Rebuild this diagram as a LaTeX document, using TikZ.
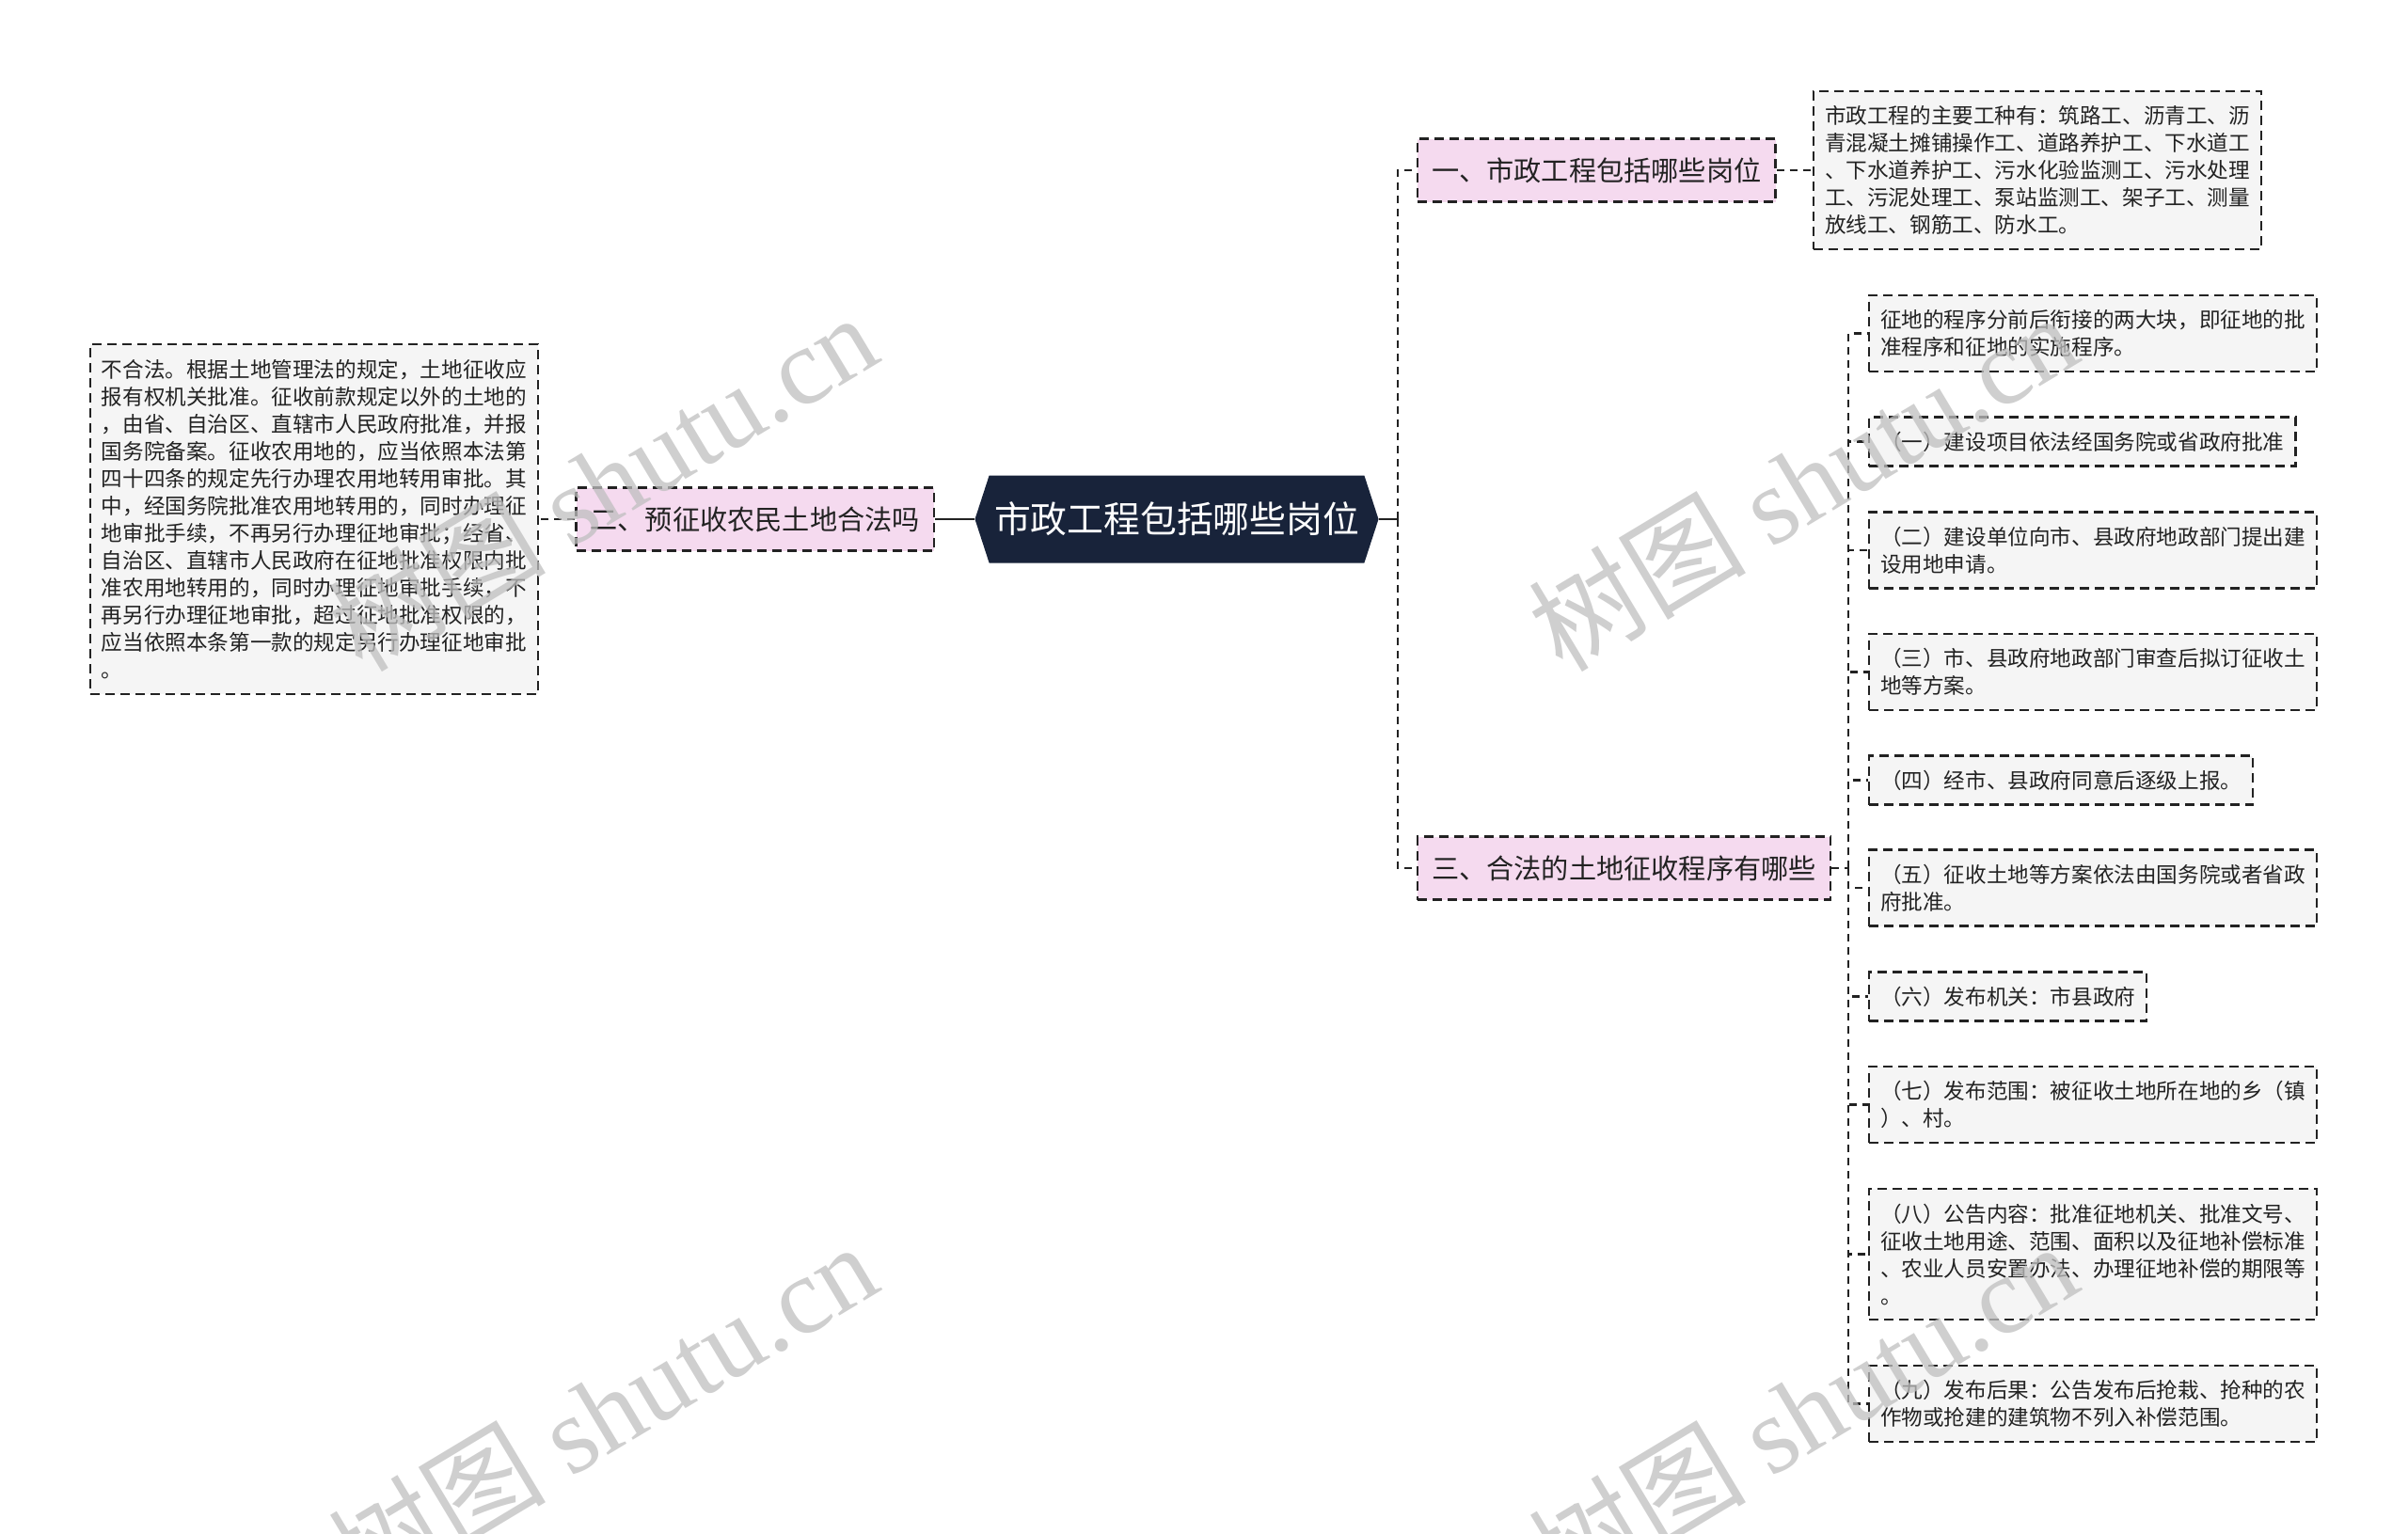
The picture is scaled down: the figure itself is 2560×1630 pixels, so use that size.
\documentclass[tikz,border=0pt]{standalone}
\usepackage{fontspec}
\setmainfont{Noto Sans CJK SC}
\newfontfamily\wmserif{Liberation Serif}
\usetikzlibrary{shapes.symbols}
\definecolor{rootblue}{HTML}{18233A}
\definecolor{topicpink}{HTML}{F5DAEF}
\definecolor{leafgray}{HTML}{F5F5F5}
\definecolor{inkgray}{HTML}{222222}

\begin{document}
\begin{tikzpicture}[x=0.5pt,y=-0.5pt,
  root/.style={signal,signal to=west and east,signal pointer angle=144,fill=rootblue,text=white,
    font=\fontsize{19.4pt}{23pt}\selectfont,minimum width=214.5pt,minimum height=46.5pt,inner sep=0pt},
  topic/.style={draw=inkgray,dash pattern=on 5pt off 3pt,line width=1.1pt,fill=topicpink,text=inkgray,
    font=\fontsize{14.6pt}{18pt}\selectfont,minimum height=33.5pt,inner xsep=7.5pt,inner ysep=0pt},
  leaf/.style={draw=inkgray,dash pattern=on 5pt off 3pt,line width=1.1pt,fill=leafgray,text=inkgray,
    font=\fontsize{11.3pt}{14.5pt}\selectfont,align=left,inner xsep=6pt,inner ysep=0pt},
  link/.style={draw=inkgray,line width=1.2pt,dash pattern=on 4pt off 3pt},
  tie/.style={draw=inkgray,line width=1.2pt},
  wmark/.style={text=black!25,opacity=0.75,rotate=31,font=\fontsize{58pt}{64pt}\selectfont}
]
\useasboundingbox[fill=white] (0,0) rectangle (2560,1630);

% centre and main topics
\node[root] (root) at (1251,552) {市政工程包括哪些岗位};
\node[topic,anchor=west] (jobs) at (1506,181) {一、市政工程包括哪些岗位};
\node[topic,anchor=east] (legal) at (994,552) {二、预征收农民土地合法吗};
\node[topic,anchor=west] (steps) at (1506,923) {三、合法的土地征收程序有哪些};

% details
\node[leaf,anchor=west,minimum height=84pt] (jobsinfo) at (1927,181) {市政工程的主要工种有：筑路工、沥青工、沥\\青混凝土摊铺操作工、道路养护工、下水道工\\、下水道养护工、污水化验监测工、污水处理\\工、污泥处理工、泵站监测工、架子工、测量\\放线工、钢筋工、防水工。};
\node[leaf,anchor=east,minimum height=186pt] (legalinfo) at (573,552) {不合法。根据土地管理法的规定，土地征收应\\报有权机关批准。征收前款规定以外的土地的\\，由省、自治区、直辖市人民政府批准，并报\\国务院备案。征收农用地的，应当依照本法第\\四十四条的规定先行办理农用地转用审批。其\\中，经国务院批准农用地转用的，同时办理征\\地审批手续，不再另行办理征地审批；经省、\\自治区、直辖市人民政府在征地批准权限内批\\准农用地转用的，同时办理征地审批手续，不\\再另行办理征地审批，超过征地批准权限的，\\应当依照本条第一款的规定另行办理征地审批\\。};

\node[leaf,anchor=west,minimum height=40.5pt] (s0) at (1986,354.5) {征地的程序分前后衔接的两大块，即征地的批\\准程序和征地的实施程序。};
\node[leaf,anchor=west,minimum height=26pt] (s1) at (1986,469.5) {（一）建设项目依法经国务院或省政府批准};
\node[leaf,anchor=west,minimum height=40.5pt] (s2) at (1986,585) {（二）建设单位向市、县政府地政部门提出建\\设用地申请。};
\node[leaf,anchor=west,minimum height=40.5pt] (s3) at (1986,714.5) {（三）市、县政府地政部门审查后拟订征收土\\地等方案。};
\node[leaf,anchor=west,minimum height=26pt] (s4) at (1986,829.5) {（四）经市、县政府同意后逐级上报。};
\node[leaf,anchor=west,minimum height=40.5pt] (s5) at (1986,944) {（五）征收土地等方案依法由国务院或者省政\\府批准。};
\node[leaf,anchor=west,minimum height=26pt] (s6) at (1986,1059.5) {（六）发布机关：市县政府};
\node[leaf,anchor=west,minimum height=40.5pt] (s7) at (1986,1174.5) {（七）发布范围：被征收土地所在地的乡（镇\\）、村。};
\node[leaf,anchor=west,minimum height=69.5pt] (s8) at (1986,1333.5) {（八）公告内容：批准征地机关、批准文号、\\征收土地用途、范围、面积以及征地补偿标准\\、农业人员安置办法、办理征地补偿的期限等\\。};
\node[leaf,anchor=west,minimum height=40.5pt] (s9) at (1986,1492.5) {（九）发布后果：公告发布后抢栽、抢种的农\\作物或抢建的建筑物不列入补偿范围。};

% connectors
\coordinate (rj) at (1486,552);
\coordinate (sj) at (1965,923);
\draw[tie] (root.west) -- (legal.east);
\draw[link] (legal.west) -- (legalinfo.east);
\draw[tie] (root.east) -- (rj);
\draw[link] (rj) |- (jobs.west);
\draw[link] (rj) |- (steps.west);
\draw[link] (jobs.east) -- (jobsinfo.west);
\draw[link] (steps.east) -- (sj);
\foreach \i in {0,...,9}
  \draw[link] (sj) |- (s\i.west);

% watermarks
\foreach \wx/\wy [count=\k] in {640/512,1916/512,640/1500,1916/1500}
  \node[wmark] (wm\k) at (\wx,\wy) {树图 {\wmserif shutu.cn}};
\end{tikzpicture}
\end{document}
